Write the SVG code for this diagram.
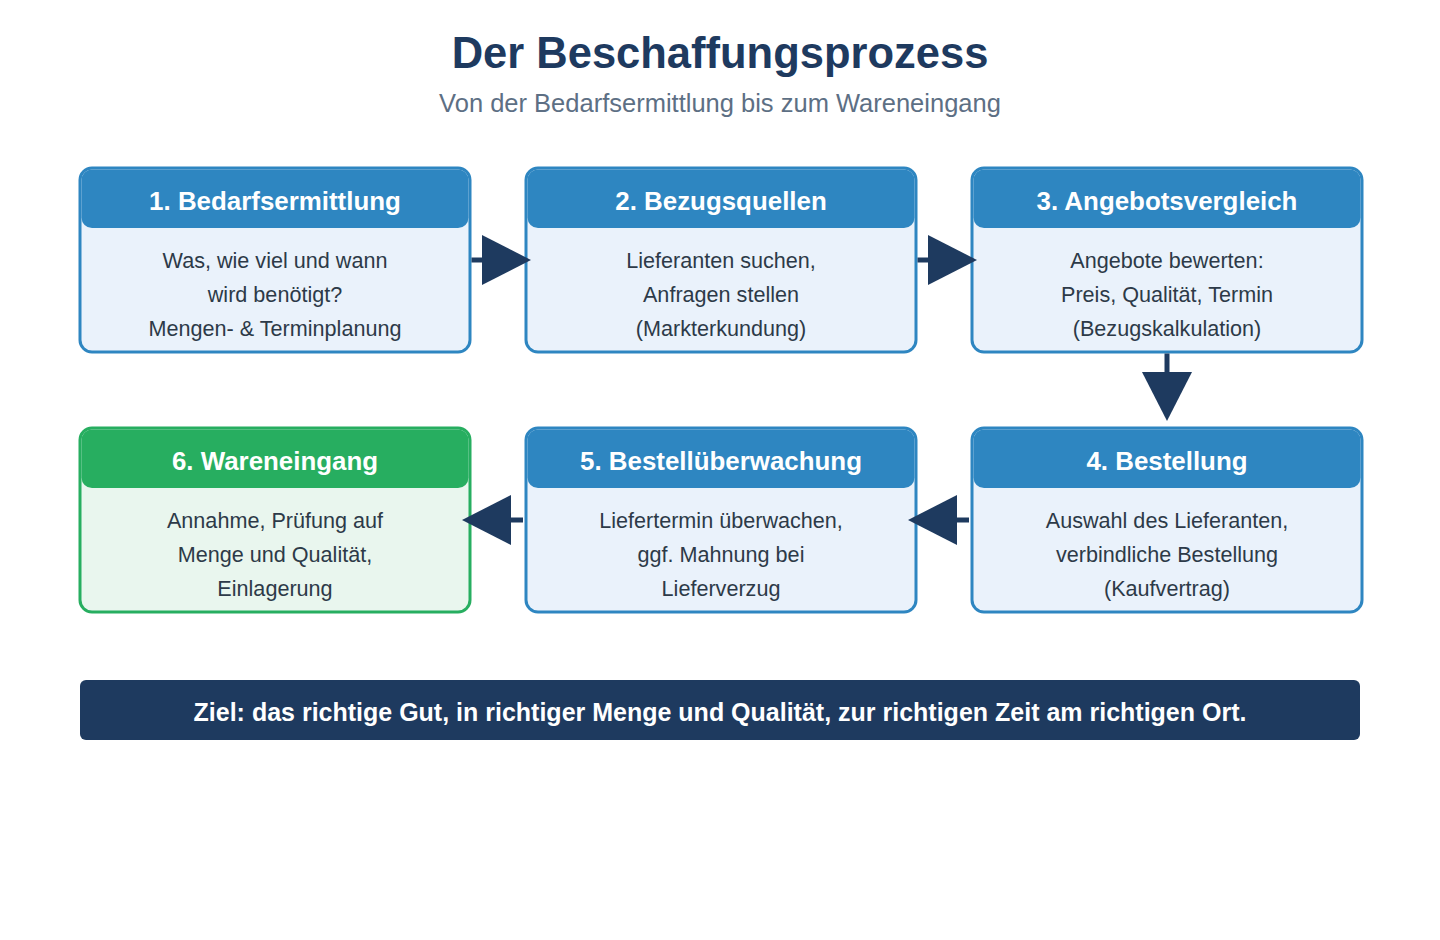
<svg xmlns="http://www.w3.org/2000/svg" width="1440" height="940" viewBox="0 0 1440 940">
<defs>
<style>
.title{font-family:"Liberation Sans",Arial,sans-serif;font-weight:bold;font-size:43.5px;fill:#1e3a5f;text-anchor:middle}
.sub{font-family:"Liberation Sans",Arial,sans-serif;font-size:25.5px;fill:#5d6f84;text-anchor:middle}
.box{fill:#eaf2fb;stroke:#2e86c1;stroke-width:3}
.box.green{fill:#e9f6ee;stroke:#27ae60}
.hdr{fill:#2e86c1}
.hdr.green{fill:#27ae60}
.ht{font-family:"Liberation Sans",Arial,sans-serif;font-weight:bold;font-size:25.9px;fill:#ffffff;text-anchor:middle}
.bt{font-family:"Liberation Sans",Arial,sans-serif;font-size:21.6px;fill:#2d3a48;text-anchor:middle}
.conn{stroke:#1e3a5f;stroke-width:5;fill:none;marker-end:url(#ah)}
.banner{fill:#1e3a5f}
.bn{font-family:"Liberation Sans",Arial,sans-serif;font-weight:bold;font-size:25px;fill:#ffffff;text-anchor:middle}
</style>
<marker id="ah" markerUnits="userSpaceOnUse" markerWidth="49" markerHeight="50" viewBox="0 0 49 50" refX="0" refY="25" orient="auto">
<path d="M0,0 L49,25 L0,50 z" fill="#1e3a5f"/>
</marker>
</defs>
<rect width="1440" height="940" fill="#ffffff"/>
<text class="title" x="720" y="68">Der Beschaffungsprozess</text>
<text class="sub" x="720" y="112">Von der Bedarfsermittlung bis zum Wareneingang</text>

<g id="node1">
<rect class="box" x="80" y="168" width="390" height="184" rx="12"/>
<rect class="hdr" x="81.5" y="169.5" width="387" height="58.5" rx="10.5"/>
<text class="ht" x="275" y="210">1. Bedarfsermittlung</text>
<text class="bt" x="275" y="268">Was, wie viel und wann</text>
<text class="bt" x="275" y="302">wird benötigt?</text>
<text class="bt" x="275" y="336">Mengen- &amp; Terminplanung</text>
</g>
<g id="node2">
<rect class="box" x="526" y="168" width="390" height="184" rx="12"/>
<rect class="hdr" x="527.5" y="169.5" width="387" height="58.5" rx="10.5"/>
<text class="ht" x="721" y="210">2. Bezugsquellen</text>
<text class="bt" x="721" y="268">Lieferanten suchen,</text>
<text class="bt" x="721" y="302">Anfragen stellen</text>
<text class="bt" x="721" y="336">(Markterkundung)</text>
</g>
<g id="node3">
<rect class="box" x="972" y="168" width="390" height="184" rx="12"/>
<rect class="hdr" x="973.5" y="169.5" width="387" height="58.5" rx="10.5"/>
<text class="ht" x="1167" y="210">3. Angebotsvergleich</text>
<text class="bt" x="1167" y="268">Angebote bewerten:</text>
<text class="bt" x="1167" y="302">Preis, Qualität, Termin</text>
<text class="bt" x="1167" y="336">(Bezugskalkulation)</text>
</g>
<g id="node4">
<rect class="box" x="972" y="428" width="390" height="184" rx="12"/>
<rect class="hdr" x="973.5" y="429.5" width="387" height="58.5" rx="10.5"/>
<text class="ht" x="1167" y="470">4. Bestellung</text>
<text class="bt" x="1167" y="528">Auswahl des Lieferanten,</text>
<text class="bt" x="1167" y="562">verbindliche Bestellung</text>
<text class="bt" x="1167" y="596">(Kaufvertrag)</text>
</g>
<g id="node5">
<rect class="box" x="526" y="428" width="390" height="184" rx="12"/>
<rect class="hdr" x="527.5" y="429.5" width="387" height="58.5" rx="10.5"/>
<text class="ht" x="721" y="470">5. Bestellüberwachung</text>
<text class="bt" x="721" y="528">Liefertermin überwachen,</text>
<text class="bt" x="721" y="562">ggf. Mahnung bei</text>
<text class="bt" x="721" y="596">Lieferverzug</text>
</g>
<g id="node6">
<rect class="box green" x="80" y="428" width="390" height="184" rx="12"/>
<rect class="hdr green" x="81.5" y="429.5" width="387" height="58.5" rx="10.5"/>
<text class="ht" x="275" y="470">6. Wareneingang</text>
<text class="bt" x="275" y="528">Annahme, Prüfung auf</text>
<text class="bt" x="275" y="562">Menge und Qualität,</text>
<text class="bt" x="275" y="596">Einlagerung</text>
</g>

<g id="connectors">
<path class="conn" d="M471.5,260 H482"/>
<path class="conn" d="M917.5,260 H928"/>
<path class="conn" d="M1167,353.5 V372"/>
<path class="conn" d="M969,520 H957"/>
<path class="conn" d="M523,520 H511"/>
</g>

<g id="goal">
<rect class="banner" x="80" y="680" width="1280" height="60" rx="6"/>
<text class="bn" x="720" y="721">Ziel: das richtige Gut, in richtiger Menge und Qualität, zur richtigen Zeit am richtigen Ort.</text>
</g>
</svg>
